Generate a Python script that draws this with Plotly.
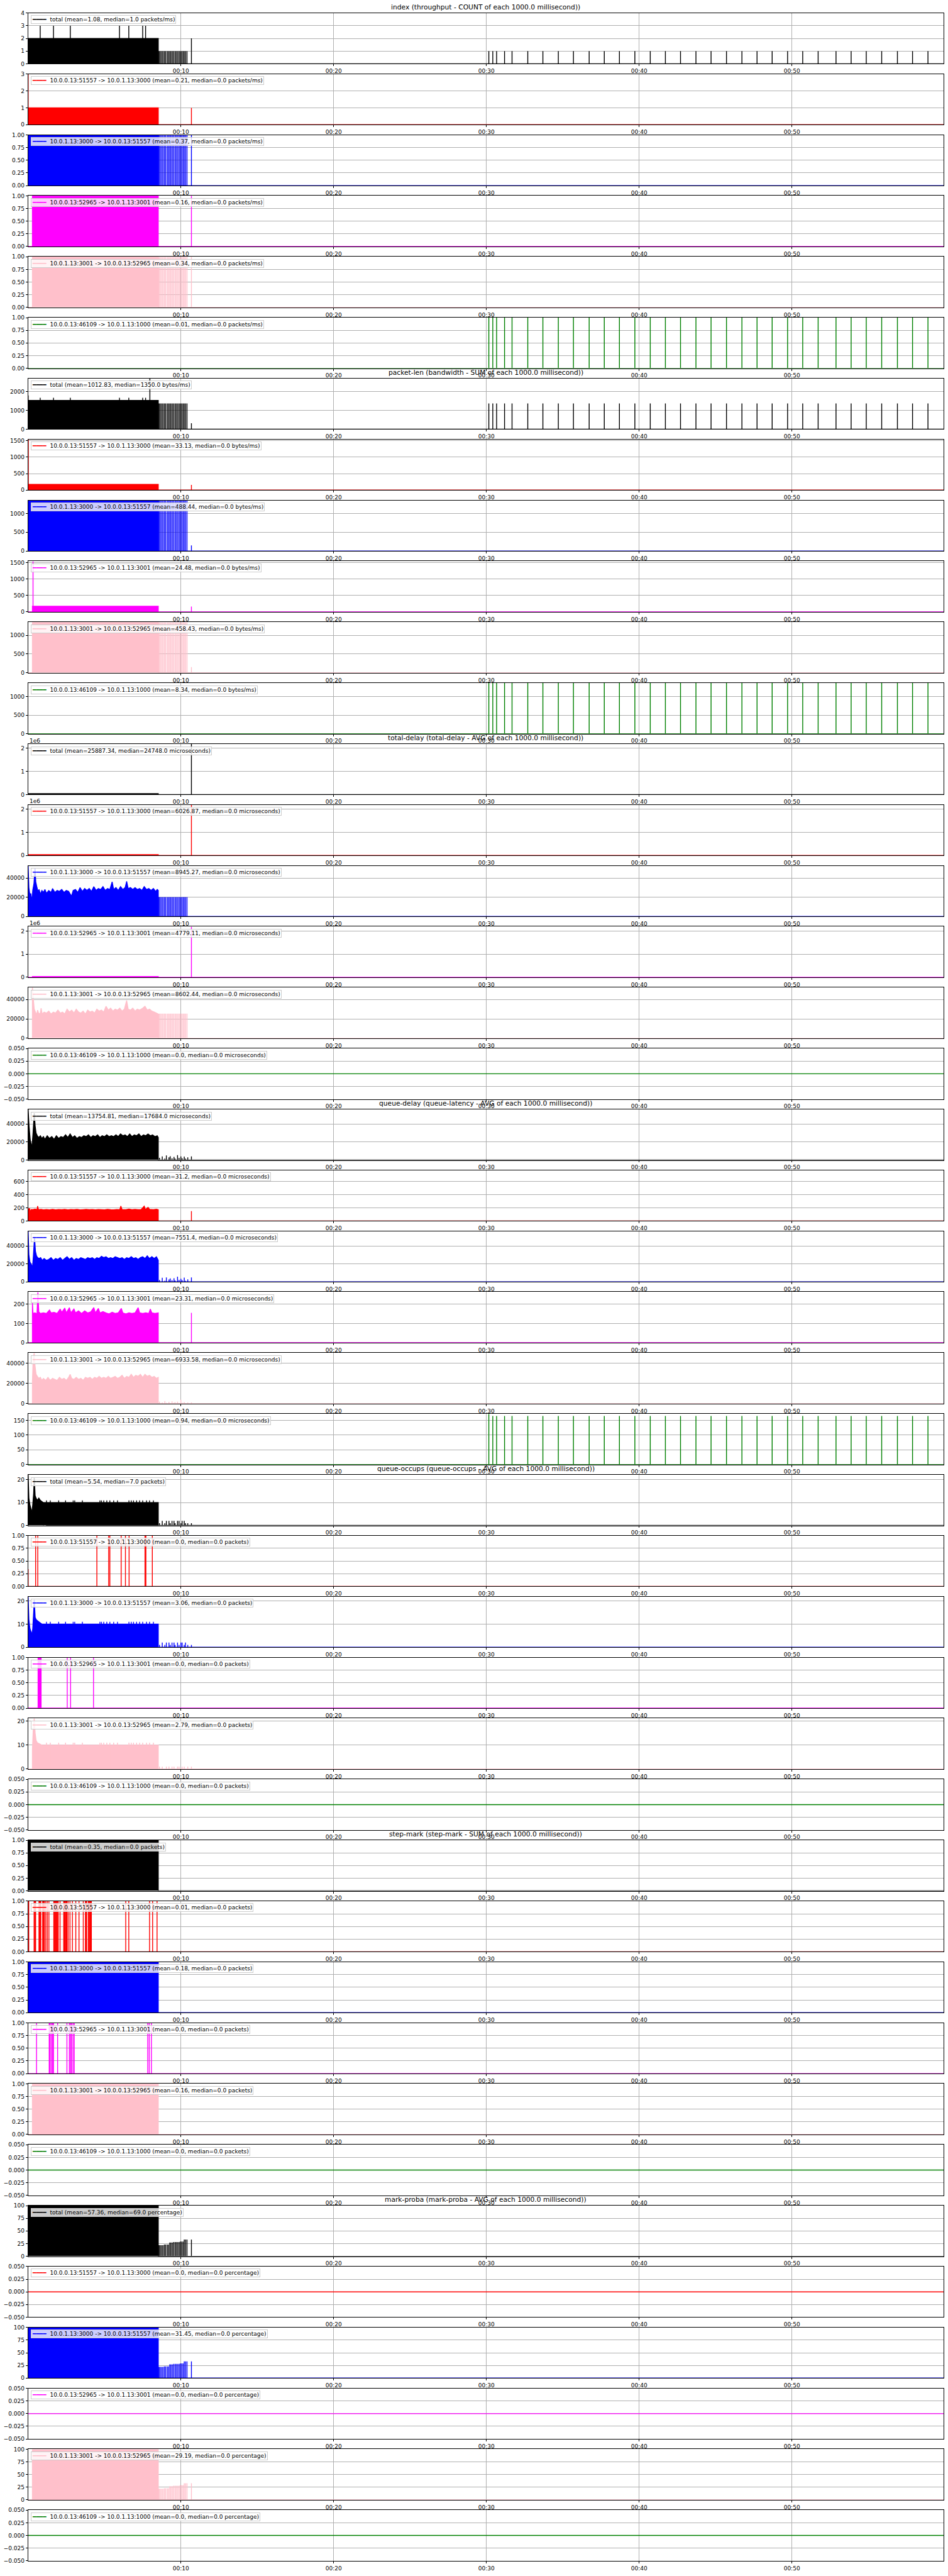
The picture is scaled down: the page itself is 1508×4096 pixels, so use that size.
import plotly.graph_objects as go

# ---------------- layout constants (reference px scaled by 0.895) ----------------
S = 0.895
W, H = 1508, 4096
XMAX = 59.93

# ---------------- shared data ----------------
X_TICKS = [10, 20, 30, 40, 50]
X_TICKTEXT = ["00:10", "00:20", "00:30", "00:40", "00:50"]

GROUP_TITLES = [
    "index (throughput - COUNT of each 1000.0 millisecond))",
    "packet-len (bandwidth - SUM of each 1000.0 millisecond))",
    "total-delay (total-delay - AVG of each 1000.0 millisecond))",
    "queue-delay (queue-latency - AVG of each 1000.0 millisecond))",
    "queue-occups (queue-occups - AVG of each 1000.0 millisecond))",
    "step-mark (step-mark - SUM of each 1000.0 millisecond))",
    "mark-proba (mark-proba - AVG of each 1000.0 millisecond))",
]
UNITS = ["packets/ms", "bytes/ms", "microseconds", "microseconds", "packets", "packets", "percentage"]
FLOW_LABELS = [
    "total",
    "10.0.0.13:51557 -> 10.0.1.13:3000",
    "10.0.1.13:3000 -> 10.0.0.13:51557",
    "10.0.0.13:52965 -> 10.0.1.13:3001",
    "10.0.1.13:3001 -> 10.0.0.13:52965",
    "10.0.0.13:46109 -> 10.0.1.13:1000",
]
FLOW_COLORS = ["#000000", "#ff0000", "#0000ff", "#ff00ff", "#ffc0cb", "#008000"]

STATS_INDEX = [("1.08", "1.0"), ("0.21", "0.0"), ("0.37", "0.0"), ("0.16", "0.0"), ("0.34", "0.0"), ("0.01", "0.0")]
STATS_PKTLEN = [("1012.83", "1350.0"), ("33.13", "0.0"), ("488.44", "0.0"), ("24.48", "0.0"), ("458.43", "0.0"), ("8.34", "0.0")]
STATS_TDELAY = [("25887.34", "24748.0"), ("6026.87", "0.0"), ("8945.27", "0.0"), ("4779.11", "0.0"), ("8602.44", "0.0"), ("0.0", "0.0")]
STATS_QDELAY = [("13754.81", "17684.0"), ("31.2", "0.0"), ("7551.4", "0.0"), ("23.31", "0.0"), ("6933.58", "0.0"), ("0.94", "0.0")]
STATS_QOCC = [("5.54", "7.0"), ("0.0", "0.0"), ("3.06", "0.0"), ("0.0", "0.0"), ("2.79", "0.0"), ("0.0", "0.0")]
STATS_STEP = [("0.35", "0.0"), ("0.01", "0.0"), ("0.18", "0.0"), ("0.0", "0.0"), ("0.16", "0.0"), ("0.0", "0.0")]
STATS_PROBA = [("57.36", "69.0"), ("0.0", "0.0"), ("31.45", "0.0"), ("0.0", "0.0"), ("29.19", "0.0"), ("0.0", "0.0")]

# event times (seconds)
BURST_T = [0.79, 1.66, 2.76, 5.98, 6.59, 7.50, 7.69]
COMB_T = [8.58, 8.66, 8.75, 8.83, 8.92, 9.00, 9.10, 9.18, 9.27, 9.35, 9.44,
          9.53, 9.62, 9.70, 9.79, 9.88, 9.96, 10.05, 10.14, 10.22, 10.31, 10.40]
MARK_COMB = [22, 22, 22, 22, 23, 23, 23, 23, 27, 27, 27, 28, 28, 28, 28, 28, 29, 29, 29, 33, 33, 33]
PERIODIC_T = [30.16, 30.42, 30.67, 31.19, 31.68, 32.71, 33.70, 34.71, 35.70, 36.73, 37.72,
              38.71, 39.72, 40.73, 41.72, 42.71, 43.72, 44.71, 45.72, 46.73, 47.72, 48.71,
              49.72, 50.71, 51.72, 52.89, 53.88, 54.87, 55.88, 56.91, 57.90, 58.91]
OCC_HI_T = [1.2, 1.45, 2.0, 2.45, 2.95, 3.05, 3.55, 4.7, 4.8, 4.95, 5.15, 5.35, 5.6, 5.85,
            6.6, 6.75, 6.9, 7.1, 7.3, 7.5, 7.75, 7.95, 8.2]
SMALL_T = [8.60, 8.78, 8.95, 9.05, 9.22, 9.30, 9.42, 9.55, 9.62, 9.78, 9.88, 10.0, 10.08, 10.22, 10.30, 10.45, 10.69]
QD_SMALL_TOTAL = [2500, 4000, 1500, 5000, 3000, 4200, 2000, 3500, 1500, 5500, 2500, 4000, 2000, 3800, 1500, 3000, 4000]
QD_SMALL_BLUE = [2000, 4500, 1200, 4800, 2500, 3800, 1800, 4000, 1500, 5800, 2200, 3500, 1800, 4600, 1200, 2800, 4800]
QD_SMALL_PINK = [2000, 1200, 2500, 800, 1800, 600, 2300, 900, 1500, 2000, 700, 3800, 900, 1500, 600, 1200, 1200]
QO_SMALL_TOTAL = [1, 2, 1, 2, 2, 1, 2, 2, 1, 2, 2, 1, 2, 2, 1, 1, 1]
QO_SMALL_BLUE = [1, 2, 1, 2, 2, 1, 2, 2, 1, 2, 1, 2, 2, 1, 2, 1, 1]
QO_SMALL_PINK = [1, 1, 0, 1, 1, 0, 1, 1, 0, 1, 1, 0, 1, 1, 0, 1, 1]
QO_RED_T = [0.49, 0.63, 4.50, 5.27, 5.35, 6.09, 6.37, 6.61, 7.65, 7.71, 8.13]
QO_MAG_T = [2.56, 2.78, 4.28]
SM_RED_T = [0.04, 0.39, 0.45, 0.49, 0.71, 0.75, 0.79, 0.83, 0.95, 1.01, 1.07, 1.16, 1.26, 1.36,
            1.68, 1.74, 1.79, 1.85, 1.91, 1.97, 2.09, 2.33, 2.37, 2.43, 2.49, 2.54, 2.62, 2.74,
            2.90, 3.12, 3.33, 3.61, 3.75, 3.79, 3.83, 3.94, 4.00, 4.06, 4.10, 4.14, 6.39, 6.59,
            7.95, 8.15, 8.44]
SM_MAG_T = [0.55, 1.38, 1.44, 1.52, 1.60, 1.66, 1.93, 2.54, 2.70, 2.78, 2.84, 2.94, 3.02, 7.83, 7.93, 8.07]

# ---------------- profiles (t, value) ----------------
TD_BLUE_PROFILE = [(0.00, 52700), (0.05, 30000), (0.12, 22000), (0.18, 24000), (0.25, 15000), (0.30, 27000),
                   (0.38, 34000), (0.45, 50000), (0.50, 36000), (0.58, 30000), (0.65, 26000), (0.72, 28000),
                   (0.80, 23000), (0.90, 27000), (1.00, 25000), (1.10, 28000), (1.20, 24000), (1.35, 27000),
                   (1.50, 25000), (1.60, 29000), (1.75, 25000), (1.90, 27000), (2.05, 26000), (2.20, 28000),
                   (2.35, 25000), (2.50, 27000), (2.65, 26000), (2.84, 21000), (2.95, 27000), (3.10, 28000),
                   (3.25, 25000), (3.40, 30000), (3.55, 26000), (3.70, 29000), (3.85, 27000), (4.00, 29000),
                   (4.15, 26000), (4.30, 31000), (4.45, 27000), (4.60, 29000), (4.75, 28000), (4.90, 31000),
                   (5.05, 27000), (5.20, 29000), (5.35, 28000), (5.50, 36000), (5.60, 28000), (5.75, 30000),
                   (5.90, 27000), (6.05, 31000), (6.20, 28000), (6.35, 30000), (6.45, 36500), (6.55, 29000),
                   (6.70, 30000), (6.85, 28000), (7.00, 30000), (7.15, 28000), (7.30, 29000), (7.45, 27000),
                   (7.60, 31000), (7.75, 28000), (7.90, 29000), (8.05, 27000), (8.20, 29000), (8.35, 26000),
                   (8.45, 28000), (8.52, 27000)]
TD_PINK_PROFILE = [(0.28, 52300), (0.33, 42000), (0.40, 30000), (0.48, 27000), (0.55, 24000), (0.62, 29000),
                   (0.70, 25000), (0.80, 26000), (0.85, 31000), (0.92, 25000), (1.05, 27000), (1.20, 26000),
                   (1.35, 28000), (1.50, 25000), (1.65, 27000), (1.80, 26000), (1.95, 29000), (2.10, 26000),
                   (2.25, 27000), (2.40, 25000), (2.55, 30000), (2.70, 27000), (2.85, 29000), (3.00, 26000),
                   (3.15, 30000), (3.30, 27000), (3.45, 26000), (3.60, 28000), (3.75, 25000), (3.90, 29000),
                   (4.05, 27000), (4.20, 28000), (4.35, 26000), (4.50, 30000), (4.65, 28000), (4.80, 29000),
                   (4.95, 27000), (5.10, 33000), (5.25, 29000), (5.40, 31000), (5.55, 28000), (5.70, 30000),
                   (5.85, 29000), (6.00, 31000), (6.15, 28000), (6.30, 30000), (6.45, 39000), (6.55, 30000),
                   (6.70, 29000), (6.85, 31000), (7.00, 28000), (7.15, 30000), (7.30, 29000), (7.50, 31000),
                   (7.65, 33000), (7.80, 29000), (7.95, 30000), (8.10, 28000), (8.25, 27000), (8.40, 26000),
                   (8.52, 25000)]
QD_TOTAL_PROFILE = [(0.00, 56300), (0.06, 38000), (0.14, 22000), (0.25, 14000), (0.32, 30000), (0.40, 52000),
                    (0.46, 38000), (0.52, 30000), (0.60, 27000), (0.70, 25000), (0.80, 27000), (0.90, 24000),
                    (1.00, 26000), (1.10, 23000), (1.25, 27000), (1.40, 24000), (1.55, 26000), (1.70, 23000),
                    (1.85, 27000), (2.00, 24000), (2.15, 26000), (2.30, 25000), (2.45, 28000), (2.60, 25000),
                    (2.75, 29000), (2.90, 25000), (3.05, 27000), (3.20, 24000), (3.35, 26000), (3.50, 25000),
                    (3.65, 27000), (3.80, 26000), (3.95, 28000), (4.10, 25000), (4.25, 27000), (4.40, 26000),
                    (4.55, 28000), (4.70, 25000), (4.85, 27000), (5.00, 26000), (5.15, 28000), (5.30, 26000),
                    (5.45, 27000), (5.60, 26000), (5.75, 28000), (5.90, 26000), (6.05, 29000), (6.20, 27000),
                    (6.35, 28000), (6.50, 26000), (6.65, 29000), (6.80, 26000), (6.95, 28000), (7.10, 27000),
                    (7.25, 29000), (7.40, 26000), (7.55, 28000), (7.70, 27000), (7.85, 29000), (8.00, 27000),
                    (8.15, 28000), (8.30, 26000), (8.45, 27000), (8.52, 25000)]
QD_BLUE_PROFILE = [(0.00, 56500), (0.05, 30000), (0.12, 22000), (0.22, 19000), (0.28, 15000), (0.34, 28000),
                   (0.42, 50000), (0.48, 34000), (0.55, 29000), (0.62, 27000), (0.72, 26000), (0.82, 27000),
                   (0.92, 24000), (1.05, 26000), (1.20, 24000), (1.35, 25000), (1.50, 27000), (1.65, 24000),
                   (1.80, 26000), (1.95, 25000), (2.10, 27000), (2.25, 24000), (2.40, 26000), (2.55, 28000),
                   (2.70, 25000), (2.85, 27000), (3.00, 24000), (3.15, 26000), (3.30, 25000), (3.45, 27000),
                   (3.60, 26000), (3.75, 25000), (3.90, 27000), (4.05, 26000), (4.20, 27000), (4.35, 25000),
                   (4.50, 27000), (4.65, 26000), (4.80, 28500), (4.95, 27000), (5.10, 28000), (5.25, 26000),
                   (5.40, 27000), (5.55, 26000), (5.70, 28000), (5.85, 27000), (6.00, 26000), (6.15, 27000),
                   (6.30, 25000), (6.45, 27000), (6.60, 26000), (6.75, 28000), (6.90, 26000), (7.05, 27000),
                   (7.20, 25000), (7.35, 27000), (7.50, 28000), (7.65, 26000), (7.80, 29000), (7.95, 26000),
                   (8.10, 28000), (8.25, 26000), (8.40, 28000), (8.52, 24000)]
QD_PINK_PROFILE = [(0.28, 22000), (0.33, 45000), (0.40, 50100), (0.45, 38000), (0.52, 29000), (0.60, 27000),
                   (0.70, 25000), (0.80, 26000), (0.90, 23000), (1.00, 25000), (1.15, 23000), (1.30, 26000),
                   (1.45, 23000), (1.60, 25000), (1.75, 24000), (1.90, 23000), (2.05, 26000), (2.20, 24000),
                   (2.35, 25000), (2.50, 23000), (2.65, 26000), (2.75, 29000), (2.85, 25000), (3.00, 24000),
                   (3.15, 26000), (3.30, 24000), (3.45, 25000), (3.60, 23000), (3.75, 26000), (3.90, 25000),
                   (4.05, 26000), (4.20, 24000), (4.35, 26000), (4.50, 25000), (4.65, 27000), (4.80, 25000),
                   (4.95, 26000), (5.10, 25000), (5.25, 27000), (5.40, 25000), (5.55, 26000), (5.70, 27000),
                   (5.85, 25000), (6.00, 26000), (6.15, 28000), (6.30, 25000), (6.45, 27000), (6.60, 26000),
                   (6.75, 29000), (6.90, 26000), (7.05, 28000), (7.20, 27000), (7.35, 29000), (7.50, 26000),
                   (7.65, 29000), (7.80, 27000), (7.95, 28000), (8.10, 26000), (8.25, 27000), (8.40, 25000),
                   (8.52, 26000)]
QD_RED_PROFILE = [(0.00, 190), (0.05, 175), (0.10, 190), (0.15, 140), (0.22, 175), (0.30, 170), (0.45, 180),
                  (0.58, 170), (0.62, 225), (0.68, 170), (0.85, 175), (1.00, 168), (1.20, 172), (1.40, 168),
                  (1.60, 175), (1.80, 168), (2.00, 172), (2.20, 170), (2.40, 176), (2.60, 168), (2.80, 174),
                  (3.00, 170), (3.20, 175), (3.40, 168), (3.60, 172), (3.80, 176), (4.00, 170), (4.20, 174),
                  (4.40, 168), (4.60, 172), (4.80, 170), (5.00, 168), (5.20, 175), (5.40, 170), (5.60, 168),
                  (5.80, 172), (6.00, 170), (6.07, 225), (6.15, 172), (6.40, 170), (6.60, 180), (6.80, 170),
                  (7.00, 175), (7.20, 170), (7.40, 172), (7.60, 225), (7.68, 172), (7.85, 205), (7.95, 175),
                  (8.20, 172), (8.40, 178), (8.52, 170)]
QD_MAG_PROFILE = [(0.28, 210), (0.32, 152), (0.45, 155), (0.58, 150), (0.64, 263), (0.70, 160), (0.80, 152),
                  (1.00, 155), (1.20, 152), (1.40, 170), (1.50, 155), (1.70, 158), (1.90, 152), (2.10, 175),
                  (2.20, 158), (2.40, 180), (2.50, 155), (2.70, 182), (2.80, 155), (3.00, 175), (3.10, 155),
                  (3.30, 165), (3.50, 152), (3.70, 165), (3.90, 155), (4.10, 160), (4.30, 182), (4.40, 155),
                  (4.60, 178), (4.70, 155), (4.90, 162), (5.10, 155), (5.30, 150), (5.50, 158), (5.70, 152),
                  (5.90, 155), (6.10, 178), (6.20, 155), (6.40, 150), (6.60, 155), (6.80, 152), (7.00, 155),
                  (7.20, 182), (7.30, 155), (7.50, 152), (7.70, 155), (7.90, 152), (8.00, 175), (8.10, 155),
                  (8.30, 152), (8.52, 155)]
QO_TOTAL_PROFILE = [(0.00, 22.2), (0.05, 12), (0.12, 9), (0.20, 7), (0.25, 5.5), (0.30, 9), (0.36, 14),
                    (0.40, 21), (0.46, 13), (0.52, 12), (0.60, 11), (0.70, 12), (0.80, 11), (0.90, 10.5), (1.00, 10)]
QO_BLUE_PROFILE = [(0.00, 21.9), (0.05, 12), (0.12, 8), (0.20, 6.5), (0.25, 5.5), (0.30, 8), (0.36, 15),
                   (0.40, 20.5), (0.46, 13), (0.52, 12), (0.60, 11.5), (0.70, 11), (0.80, 10.5), (0.90, 10)]
QO_PINK_PROFILE = [(0.28, 8), (0.33, 16), (0.40, 21.2), (0.46, 15), (0.52, 12), (0.60, 11), (0.75, 10.5), (0.90, 10)]

# ---------------- panel series: blocks (t0, t1, v), spikes (t, t, v), profile points (t, v) -------------
P_IDX_TOTAL = [(0.0, 8.52, 2)] + [(t, t, 3) for t in BURST_T] + [(t, t, 1) for t in COMB_T] + [(10.69, 10.69, 2)] + [(t, t, 1) for t in PERIODIC_T]
P_IDX_RED = [(0.0, 0.0, 3), (0.0, 8.52, 1), (10.69, 10.69, 1)]
P_IDX_BLUE = [(0.0, 8.52, 1)] + [(t, t, 1) for t in COMB_T] + [(10.69, 10.69, 1)]
P_IDX_MAG = [(0.28, 8.52, 1), (10.69, 10.69, 1)]
P_IDX_PINK = [(0.28, 8.52, 1)] + [(t, t, 1) for t in COMB_T] + [(10.69, 10.69, 1)]
P_IDX_GREEN = [(t, t, 1) for t in PERIODIC_T]

P_LEN_TOTAL = [(0.0, 0.0, 1800), (0.0, 8.52, 1530)] + [(t, t, 1670) for t in BURST_T] + [(7.97, 7.97, 2700)] + [(t, t, 1370) for t in COMB_T] + [(10.69, 10.69, 320)] + [(t, t, 1370) for t in PERIODIC_T]
P_LEN_RED = [(0.01, 0.01, 1540), (0.0, 8.52, 172), (10.69, 10.69, 160)]
P_LEN_BLUE = [(0.0, 8.52, 1350)] + [(t, t, 1350) for t in COMB_T] + [(10.69, 10.69, 150)]
P_LEN_MAG = [(0.32, 0.32, 1540), (0.28, 8.52, 170), (10.69, 10.69, 160)]
P_LEN_PINK = [(0.28, 8.52, 1350)] + [(t, t, 1350) for t in COMB_T] + [(10.69, 10.69, 150)]
P_LEN_GREEN = [(t, t, 1370) for t in PERIODIC_T]

P_TD_TOTAL = [(0.0, 8.52, 40000)] + [(t, t, 22000) for t in COMB_T] + [(10.69, 10.69, 2190000)]
P_TD_RED = [(0.0, 8.52, 35000), (10.69, 10.69, 2190000)]
P_TD_BLUE = TD_BLUE_PROFILE + [(t, t, 20000) for t in COMB_T]
P_TD_MAG = [(0.28, 8.52, 35000), (10.69, 10.69, 2190000)]
P_TD_PINK = TD_PINK_PROFILE + [(t, t, 25400) for t in COMB_T]
P_TD_GREEN = []

P_QD_TOTAL = QD_TOTAL_PROFILE + [(t, t, v) for t, v in zip(SMALL_T, QD_SMALL_TOTAL)]
P_QD_RED = QD_RED_PROFILE + [(10.69, 10.69, 150)]
P_QD_BLUE = QD_BLUE_PROFILE + [(t, t, v) for t, v in zip(SMALL_T, QD_SMALL_BLUE)]
P_QD_MAG = QD_MAG_PROFILE + [(10.69, 10.69, 155)]
P_QD_PINK = QD_PINK_PROFILE + [(t, t, v) for t, v in zip(SMALL_T, QD_SMALL_PINK)]
P_QD_GREEN = [(30.16, 30.16, 172)] + [(t, t, 165) for t in PERIODIC_T[1:]]

P_QO_TOTAL = QO_TOTAL_PROFILE + [(1.0, 8.52, 10)] + [(t, t, 11) for t in OCC_HI_T] + [(t, t, v) for t, v in zip(SMALL_T, QO_SMALL_TOTAL)]
P_QO_RED = [(0.0, 0.0, 0.34)] + [(t, t, 1) for t in QO_RED_T]
P_QO_BLUE = QO_BLUE_PROFILE + [(0.9, 8.52, 10)] + [(t, t, 11) for t in OCC_HI_T] + [(t, t, v) for t, v in zip(SMALL_T, QO_SMALL_BLUE)]
P_QO_MAG = [(0.65, 0.85, 1)] + [(t, t, 1) for t in QO_MAG_T]
P_QO_PINK = QO_PINK_PROFILE + [(0.9, 8.52, 10)] + [(t, t, 11) for t in OCC_HI_T] + [(t, t, v) for t, v in zip(SMALL_T, QO_SMALL_PINK)]
P_QO_GREEN = []

P_SM_TOTAL = [(0.0, 8.52, 1)]
P_SM_RED = [(t, t, 1) for t in SM_RED_T]
P_SM_BLUE = [(0.0, 8.52, 1)]
P_SM_MAG = [(t, t, 1) for t in SM_MAG_T]
P_SM_PINK = [(0.28, 8.52, 1)]
P_SM_GREEN = []

P_MP_TOTAL = [(0.0, 8.52, 100)] + [(t, t, v) for t, v in zip(COMB_T, MARK_COMB)] + [(10.69, 10.69, 33)]
P_MP_RED = []
P_MP_BLUE = [(0.0, 8.52, 100)] + [(t, t, v) for t, v in zip(COMB_T, MARK_COMB)] + [(10.69, 10.69, 33)]
P_MP_MAG = []
P_MP_PINK = [(0.28, 8.52, 100)] + [(t, t, v) for t, v in zip(COMB_T, MARK_COMB)] + [(10.69, 10.69, 33)]
P_MP_GREEN = []

# ---------------- y scales ----------------
T_01 = ([0, 0.25, 0.5, 0.75, 1], ["0.00", "0.25", "0.50", "0.75", "1.00"])
T_FLAT = ([-0.05, -0.025, 0, 0.025, 0.05], ["\u22120.050", "\u22120.025", "0.000", "0.025", "0.050"])
T_0_4 = ([0, 1, 2, 3, 4], ["0", "1", "2", "3", "4"])
T_0_3 = ([0, 1, 2, 3], ["0", "1", "2", "3"])
T_K2 = ([0, 1000, 2000], ["0", "1000", "2000"])
T_500_1500 = ([0, 500, 1000, 1500], ["0", "500", "1000", "1500"])
T_500_1000 = ([0, 500, 1000], ["0", "500", "1000"])
T_E6 = ([0, 1e6, 2e6], ["0", "1", "2"])
T_20K = ([0, 20000, 40000], ["0", "20000", "40000"])
T_600 = ([0, 200, 400, 600], ["0", "200", "400", "600"])
T_200 = ([0, 100, 200], ["0", "100", "200"])
T_150 = ([0, 50, 100, 150], ["0", "50", "100", "150"])
T_20 = ([0, 10, 20], ["0", "10", "20"])
T_100 = ([0, 25, 50, 75, 100], ["0", "25", "50", "75", "100"])
FLAT = [-0.05, 0.05]

PANELS = [
    (P_IDX_TOTAL, [0, 4], T_0_4), (P_IDX_RED, [0, 3], T_0_3), (P_IDX_BLUE, [0, 1], T_01),
    (P_IDX_MAG, [0, 1], T_01), (P_IDX_PINK, [0, 1], T_01), (P_IDX_GREEN, [0, 1], T_01),
    (P_LEN_TOTAL, [0, 2700], T_K2), (P_LEN_RED, [0, 1540], T_500_1500), (P_LEN_BLUE, [0, 1350], T_500_1000),
    (P_LEN_MAG, [0, 1540], T_500_1500), (P_LEN_PINK, [0, 1350], T_500_1000), (P_LEN_GREEN, [0, 1370], T_500_1000),
    (P_TD_TOTAL, [0, 2.19e6], T_E6), (P_TD_RED, [0, 2.19e6], T_E6), (P_TD_BLUE, [0, 52700], T_20K),
    (P_TD_MAG, [0, 2.19e6], T_E6), (P_TD_PINK, [0, 52300], T_20K), (P_TD_GREEN, FLAT, T_FLAT),
    (P_QD_TOTAL, [0, 56300], T_20K), (P_QD_RED, [0, 769], T_600), (P_QD_BLUE, [0, 56500], T_20K),
    (P_QD_MAG, [0, 263], T_200), (P_QD_PINK, [0, 50100], T_20K), (P_QD_GREEN, [0, 172], T_150),
    (P_QO_TOTAL, [0, 22.2], T_20), (P_QO_RED, [0, 1], T_01), (P_QO_BLUE, [0, 21.9], T_20),
    (P_QO_MAG, [0, 1], T_01), (P_QO_PINK, [0, 21.2], T_20), (P_QO_GREEN, FLAT, T_FLAT),
    (P_SM_TOTAL, [0, 1], T_01), (P_SM_RED, [0, 1], T_01), (P_SM_BLUE, [0, 1], T_01),
    (P_SM_MAG, [0, 1], T_01), (P_SM_PINK, [0, 1], T_01), (P_SM_GREEN, FLAT, T_FLAT),
    (P_MP_TOTAL, [0, 100], T_100), (P_MP_RED, FLAT, T_FLAT), (P_MP_BLUE, [0, 100], T_100),
    (P_MP_MAG, FLAT, T_FLAT), (P_MP_PINK, [0, 100], T_100), (P_MP_GREEN, FLAT, T_FLAT),
]
GROUP_STATS = [STATS_INDEX, STATS_PKTLEN, STATS_TDELAY, STATS_QDELAY, STATS_QOCC, STATS_STEP, STATS_PROBA]
OFFSET_PANELS = [12, 13, 15]


def build(items):
    xs, ys = [0.0], [0.0]
    in_prof, last_t = False, 0.0
    for it in items:
        if len(it) == 3:
            if in_prof:
                xs.append(last_t); ys.append(0.0); in_prof = False
            t0, t1, v = it
            xs += [t0, t0, t1, t1]
            ys += [0.0, v, v, 0.0]
        else:
            t, v = it
            if not in_prof:
                xs.append(t); ys.append(0.0); in_prof = True
            xs.append(t); ys.append(v); last_t = t
    if in_prof:
        xs.append(last_t); ys.append(0.0)
    xs.append(XMAX); ys.append(0.0)
    return xs, ys


FONT = "DejaVu Sans"
X0, X1 = 50 * S / W, 1677 * S / W
fig = go.Figure()
layout = dict(width=W, height=H, margin=dict(l=0, r=0, t=0, b=0),
              paper_bgcolor="white", plot_bgcolor="white", showlegend=False,
              font=dict(family=FONT, size=9, color="black"))
annotations = []


def top_px(i):
    return (23.3 + i * 108.2) * S


for i, (items, yr, ticks) in enumerate(PANELS):
    g, f = divmod(i, 6)
    n = "" if i == 0 else str(i + 1)
    top = top_px(i)
    bot = top + 90 * S
    color = FLOW_COLORS[f]
    mean, median = GROUP_STATS[g][f]
    label = f"{FLOW_LABELS[f]} (mean={mean}, median={median} {UNITS[g]})"
    xs, ys = build(items)
    fig.add_trace(go.Scatter(x=xs, y=ys, mode="lines", line=dict(color=color, width=1.4, simplify=False),
                             fill="tozeroy", fillcolor=color, xaxis="x" + n, yaxis="y" + n,
                             name=label, showlegend=False, hoverinfo="skip"))
    axis_common = dict(showgrid=True, gridcolor="#b0b0b0", gridwidth=0.8, showline=True, linecolor="#000000",
                       linewidth=0.9, mirror=True, ticks="outside", ticklen=3, tickwidth=0.8,
                       tickcolor="#000000", zeroline=False, automargin=False,
                       tickfont=dict(family=FONT, size=9, color="black"))
    layout["xaxis" + n] = dict(domain=[X0, X1], anchor="y" + n, range=[0, XMAX], tickmode="array",
                               tickvals=X_TICKS, ticktext=X_TICKTEXT, **axis_common)
    layout["yaxis" + n] = dict(domain=[1 - bot / H, 1 - top / H], anchor="x" + n, range=yr, tickmode="array",
                               tickvals=ticks[0], ticktext=ticks[1], **axis_common)
    # legend box (matplotlib-style, upper left)
    annotations.append(dict(
        text=f'<span style="color:{color}">\u2501\u2501\u2501\u2501</span>\u00a0\u00a0{label}',
        xref="paper", yref="paper", x=55 * S / W, y=1 - (top + 4 * S) / H,
        xanchor="left", yanchor="top", align="left", showarrow=False,
        bgcolor="rgba(255,255,255,0.8)", bordercolor="#cccccc", borderwidth=1, borderpad=1,
        font=dict(family=FONT, size=9, color="black")))
    if f == 0:
        annotations.append(dict(text=GROUP_TITLES[g], xref="paper", yref="paper", x=(X0 + X1) / 2,
                                y=1 - (top - 10.5 * S) / H, xanchor="center", yanchor="middle",
                                showarrow=False, font=dict(family=FONT, size=10.7, color="black")))
    if i in OFFSET_PANELS:
        annotations.append(dict(text="1e6", xref="paper", yref="paper", x=X0, y=1 - (top - 6 * S) / H,
                                xanchor="left", yanchor="middle", showarrow=False,
                                font=dict(family=FONT, size=9, color="black")))

layout["annotations"] = annotations
fig.update_layout(**layout)
fig.write_html("out.html")
